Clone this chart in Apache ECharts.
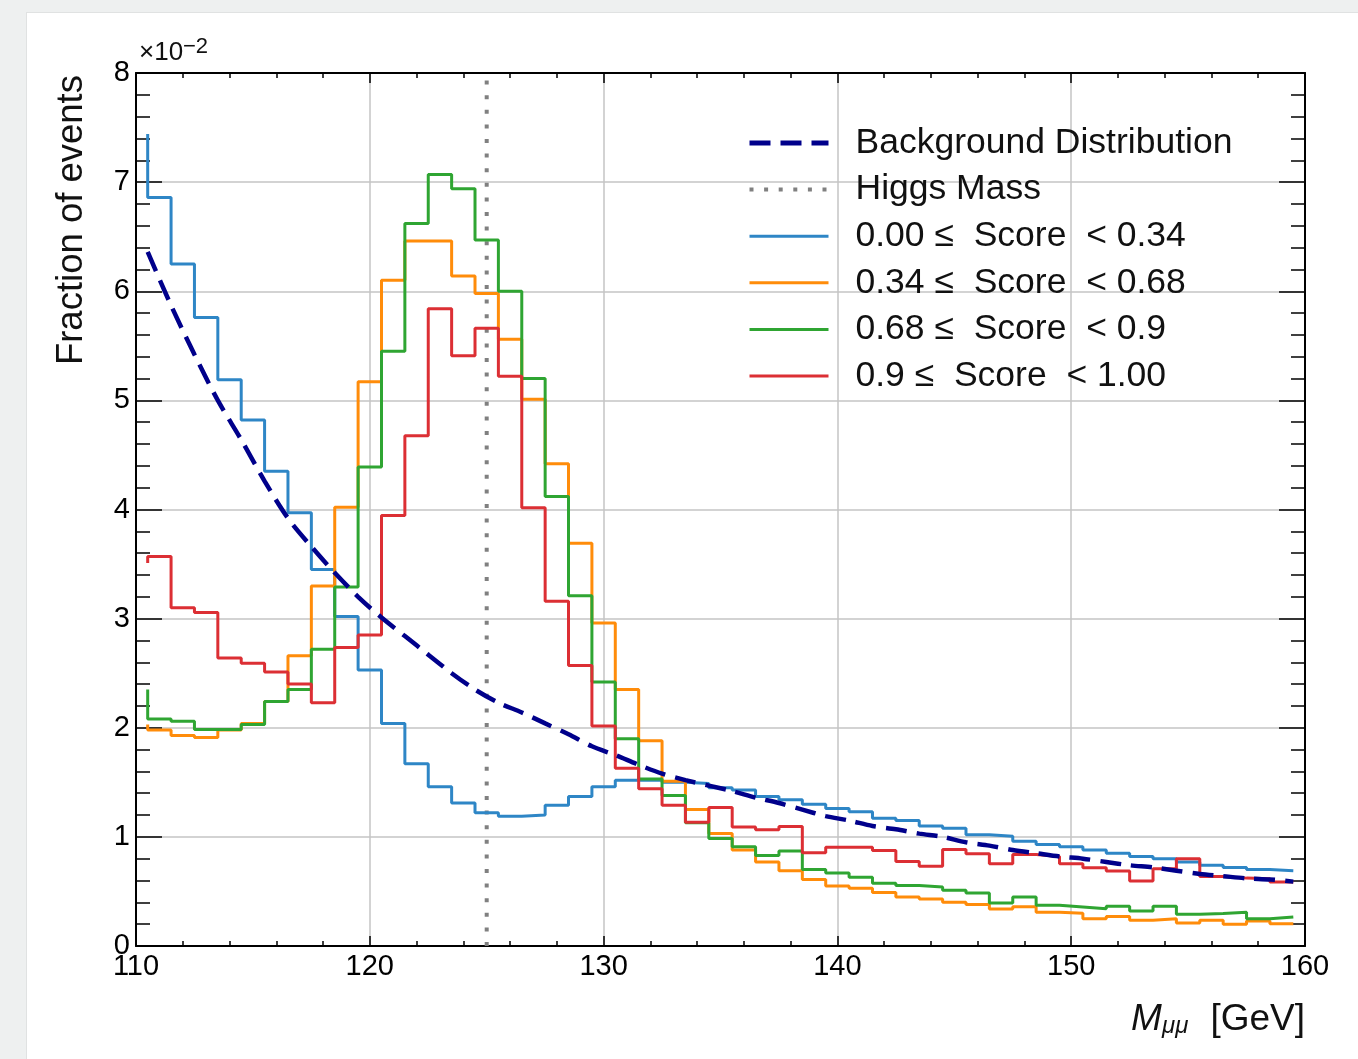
<!DOCTYPE html>
<html><head><meta charset="utf-8">
<script src="https://cdn.jsdelivr.net/npm/echarts@6/dist/echarts.min.js"></script>
<style>
html,body{margin:0;padding:0;width:1358px;height:1059px;background:#eef0f0;overflow:hidden}
#card{position:absolute;left:26px;top:12px;width:1332px;height:1047px;background:#fff;border-left:1px solid #e0e2e2;border-top:1px solid #e0e2e2}
#chart{position:absolute;left:0;top:0;width:1358px;height:1059px}
</style></head><body><div id="card"></div><div id="chart"></div>
<script>
// Bin edges (GeV) of the step histograms (x of each step point)
const massEdges = [110.5,111.5,112.5,113.5,114.5,115.5,116.5,117.5,118.5,119.5,
  120.5,121.5,122.5,123.5,124.5,125.5,126.5,127.5,128.5,129.5,
  130.5,131.5,132.5,133.5,134.5,135.5,136.5,137.5,138.5,139.5,
  140.5,141.5,142.5,143.5,144.5,145.5,146.5,147.5,148.5,149.5,
  150.5,151.5,152.5,153.5,154.5,155.5,156.5,157.5,158.5,159.5];

// Fraction of events (x 10^-2)
const score000to034 = [7.44,6.86,6.25,5.76,5.19,4.82,4.35,3.97,3.45,3.02,
  2.53,2.04,1.67,1.46,1.31,1.22,1.19,1.20,1.29,1.37,
  1.46,1.52,1.52,1.50,1.49,1.45,1.43,1.37,1.34,1.30,
  1.26,1.23,1.17,1.15,1.10,1.08,1.02,1.005,0.96,0.93,
  0.91,0.88,0.85,0.82,0.80,0.77,0.74,0.72,0.70,0.69];
const score034to068 = [2.03,1.98,1.93,1.91,1.98,2.04,2.24,2.66,3.30,4.02,
  5.17,6.10,6.46,6.46,6.14,5.98,5.56,5.01,4.42,3.69,
  2.96,2.35,1.88,1.51,1.25,1.03,0.88,0.77,0.69,0.61,
  0.55,0.53,0.49,0.45,0.43,0.40,0.38,0.34,0.36,0.31,
  0.30,0.25,0.27,0.235,0.25,0.21,0.235,0.20,0.23,0.205];
const score068to090 = [2.35,2.08,2.06,1.985,1.985,2.03,2.24,2.35,2.72,3.29,
  4.39,5.45,6.62,7.07,6.94,6.47,6.00,5.20,4.12,3.21,
  2.42,1.90,1.53,1.38,1.13,0.985,0.91,0.83,0.87,0.70,
  0.67,0.63,0.575,0.555,0.54,0.51,0.485,0.394,0.449,0.373,
  0.358,0.342,0.364,0.321,0.364,0.291,0.297,0.309,0.249,0.266];
const score090to100 = [3.51,3.57,3.10,3.055,2.64,2.59,2.51,2.40,2.23,2.735,
  2.85,3.945,4.675,5.84,5.41,5.66,5.22,4.015,3.16,2.57,
  2.015,1.63,1.44,1.29,1.135,1.27,1.09,1.065,1.095,0.855,
  0.905,0.905,0.875,0.775,0.73,0.885,0.845,0.754,0.839,0.821,
  0.754,0.717,0.687,0.596,0.709,0.80,0.638,0.622,0.616,0.586];

// Background distribution (at each bin edge)
const backgroundValues = [6.36,5.87,5.42,5.00,4.64,4.26,3.92,3.66,3.42,3.20,
  3.01,2.84,2.67,2.50,2.35,2.23,2.14,2.04,1.94,1.83,
  1.75,1.66,1.58,1.52,1.47,1.42,1.36,1.31,1.25,1.19,
  1.15,1.10,1.07,1.03,1.00,0.95,0.92,0.88,0.85,0.82,
  0.80,0.77,0.74,0.72,0.69,0.66,0.64,0.62,0.61,0.59];

const higgsMass = 125;
const xMin = 110, xMax = 160, xStep = 10;
const yMin = 0, yMax = 8, yStep = 1;
const seriesNames = ['Background Distribution','Higgs Mass',
  '0.00 \u2264  Score  < 0.34','0.34 \u2264  Score  < 0.68',
  '0.68 \u2264  Score  < 0.9','0.9 \u2264  Score  < 1.00'];

const FONT = '"Liberation Sans", Arial, Helvetica, sans-serif';
const pairs = (xs, ys) => xs.map((x, i) => [x, ys[i]]);

const chart = echarts.init(document.getElementById('chart'), null, {renderer: 'canvas'});

function xAx(pos, labels) {
  return {
    type: 'value', min: xMin, max: xMax, interval: xStep, position: pos,
    axisLine: {show: true, onZero: false, lineStyle: {color: '#000', width: 2}},
    axisTick: {show: true, inside: true, length: 10, lineStyle: {color: '#000', width: 1.5}},
    minorTick: {show: true, splitNumber: 5, length: 5, lineStyle: {color: '#000', width: 1.5}},
    splitLine: {show: labels, lineStyle: {color: '#c4c4c4', width: 1.5}},
    minorSplitLine: {show: false},
    axisLabel: {show: labels, fontSize: 29, color: '#000', margin: 6, fontFamily: FONT}
  };
}
function yAx(pos, labels) {
  return {
    type: 'value', min: yMin, max: yMax, interval: yStep, position: pos,
    axisLine: {show: true, onZero: false, lineStyle: {color: '#000', width: 2}},
    axisTick: {show: true, inside: true, length: 26, lineStyle: {color: '#000', width: 1.5}},
    minorTick: {show: true, splitNumber: 5, length: 14, lineStyle: {color: '#000', width: 1.5}},
    splitLine: {show: labels, lineStyle: {color: '#c4c4c4', width: 1.5}},
    minorSplitLine: {show: false},
    axisLabel: {show: labels, fontSize: 29, color: '#000', margin: 6, fontFamily: FONT}
  };
}

function hist(name, ys, color) {
  return {
    name: name, type: 'line', step: 'start', data: pairs(massEdges, ys),
    symbol: 'none', showSymbol: false, z: 4,
    lineStyle: {color: color, width: 3}, itemStyle: {color: color},
    emphasis: {disabled: true}
  };
}

const option = {
  animation: false,
  backgroundColor: 'transparent',
  textStyle: {fontFamily: FONT},
  grid: {left: 136, top: 73, width: 1169, height: 873, containLabel: false},
  xAxis: [xAx('bottom', true), xAx('top', false)],
  yAxis: [yAx('left', true), yAx('right', false)],
  legend: {
    orient: 'vertical', left: 747, top: 123, padding: 0,
    itemWidth: 79, itemHeight: 14, itemGap: 6.6,
    selectedMode: false,
    itemStyle: {opacity: 0, borderWidth: 0},
    textStyle: {fontSize: 35.5, lineHeight: 40, color: '#111', fontFamily: FONT, padding: [0, 0, 0, 22]},
    data: [
      {name: seriesNames[0], lineStyle: {width: 5}},
      {name: seriesNames[1], lineStyle: {width: 4}},
      {name: seriesNames[2], lineStyle: {width: 3}},
      {name: seriesNames[3], lineStyle: {width: 3}},
      {name: seriesNames[4], lineStyle: {width: 3}},
      {name: seriesNames[5], lineStyle: {width: 3}}
    ]
  },
  series: [
    {
      name: seriesNames[0], type: 'line', data: pairs(massEdges, backgroundValues),
      smooth: 0.3, symbol: 'none', showSymbol: false, z: 6,
      lineStyle: {color: '#00008b', width: 4.5, type: [21, 10]}, itemStyle: {color: '#00008b'},
      emphasis: {disabled: true}
    },
    {
      name: seriesNames[1], type: 'line', data: [[higgsMass, yMin], [higgsMass, yMax]],
      symbol: 'none', showSymbol: false, z: 3,
      lineStyle: {color: '#808080', width: 4, type: [4, 10.6]}, itemStyle: {color: '#808080'},
      emphasis: {disabled: true}
    },
    hist(seriesNames[2], score000to034, '#2e86c6'),
    hist(seriesNames[3], score034to068, '#ff8c0a'),
    hist(seriesNames[4], score068to090, '#2fa532'),
    hist(seriesNames[5], score090to100, '#dc2f34')
  ],
  graphic: [
    {type: 'text', x: 139, y: 53, style: {text: '\u00d710', font: '26px ' + FONT, fill: '#111', verticalAlign: 'middle', align: 'left'}},
    {type: 'text', x: 183, y: 47, style: {text: '\u22122', font: '22px ' + FONT, fill: '#111', verticalAlign: 'middle', align: 'left'}},
    {type: 'text', x: 71.5, y: 75, rotation: Math.PI / 2,
     style: {text: 'Fraction of events', font: '36.5px ' + FONT, fill: '#111', align: 'right', verticalAlign: 'middle'}},
    {type: 'text', x: 1305, y: 1019.5,
     style: {text: '[GeV]', font: '37px ' + FONT, fill: '#111', align: 'right', verticalAlign: 'middle'}},
    {type: 'text', x: 1162, y: 1026,
     style: {text: '\u03bc\u03bc', font: 'italic 24px ' + FONT, fill: '#111', align: 'left', verticalAlign: 'middle'}},
    {type: 'text', x: 1131, y: 1019.5,
     style: {text: 'M', font: 'italic 37px ' + FONT, fill: '#111', align: 'left', verticalAlign: 'middle'}}
  ]
};
chart.setOption(option);
</script></body></html>
